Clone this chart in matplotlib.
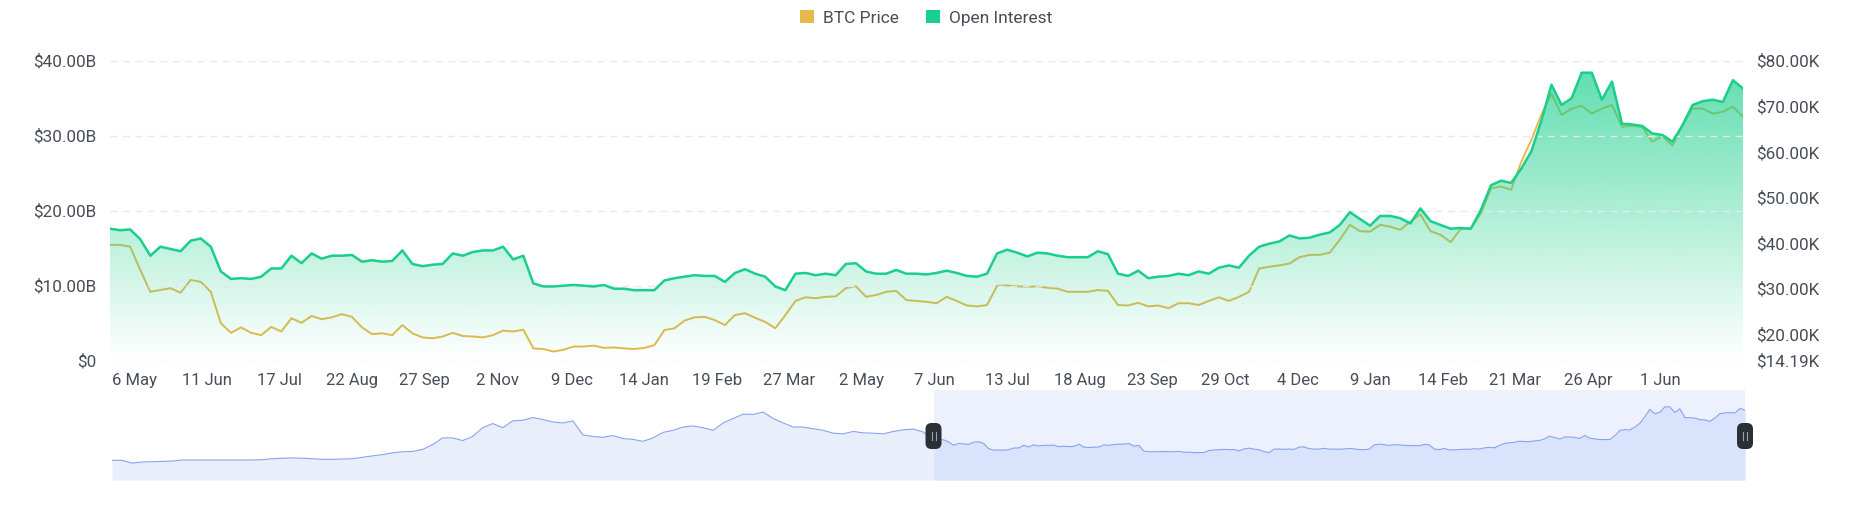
import numpy as np
import pandas as pd
import matplotlib
matplotlib.use("Agg")
import matplotlib.pyplot as plt
import matplotlib.dates as mdates
import matplotlib.transforms as mtrans
from matplotlib.patches import Patch, Polygon, FancyBboxPatch
from matplotlib.colors import to_rgb

plt.rcParams['font.family'] = ['Roboto', 'DejaVu Sans']

# open interest, $B (every 5 days from 24 Apr 2022)
oi = [17.6, 17.4, 17.5, 16.2, 14.0, 15.2, 14.9, 14.6, 16.0, 16.3,
      15.2, 11.9, 10.9, 11.0, 10.9, 11.2, 12.3, 12.3, 14.0, 13.0,
      14.3, 13.6, 14.0, 14.0, 14.1, 13.2, 13.4, 13.2, 13.3, 14.7,
      12.9, 12.6, 12.8, 12.9, 14.3, 14.0, 14.5, 14.7, 14.7, 15.2,
      13.5, 14.0, 10.3, 9.9, 9.9, 10.0, 10.1, 10.0, 9.9, 10.1,
      9.6, 9.6, 9.4, 9.4, 9.4, 10.7, 11.0, 11.2, 11.4, 11.3,
      11.3, 10.5, 11.7, 12.2, 11.6, 11.2, 9.9, 9.4, 11.6, 11.7,
      11.4, 11.6, 11.4, 12.9, 13.0, 11.9, 11.6, 11.6, 12.1, 11.6,
      11.6, 11.5, 11.7, 12.0, 11.7, 11.3, 11.2, 11.6, 14.3, 14.8,
      14.4, 13.9, 14.4, 14.3, 14.0, 13.8, 13.8, 13.8, 14.6, 14.2,
      11.6, 11.3, 12.0, 11.0, 11.2, 11.3, 11.6, 11.4, 11.9, 11.6,
      12.4, 12.7, 12.4, 14.0, 15.2, 15.6, 15.9, 16.7, 16.3, 16.4,
      16.8, 17.1, 18.1, 19.8, 18.9, 18.0, 19.3, 19.3, 19.0, 18.3,
      20.3, 18.6, 18.1, 17.6, 17.7, 17.6, 20.1, 23.4, 24.0, 23.7,
      25.6, 27.9, 32.0, 36.8, 34.1, 35.0, 38.4, 38.4, 34.8, 37.2,
      31.6, 31.5, 31.3, 30.3, 30.1, 29.2, 31.4, 34.1, 34.6, 34.8,
      34.5, 37.4, 36.3]

# BTC price, $K (same dates)
btc = [39.6, 39.6, 39.2, 34.1, 29.3, 29.7, 30.1, 29.1, 31.9, 31.5,
       29.3, 22.4, 20.3, 21.5, 20.3, 19.8, 21.6, 20.6, 23.5, 22.5,
       24.0, 23.3, 23.7, 24.4, 23.8, 21.5, 20.0, 20.2, 19.8, 22.0,
       20.2, 19.3, 19.1, 19.5, 20.3, 19.6, 19.5, 19.3, 19.8, 20.8,
       20.6, 21.0, 16.9, 16.75, 16.2, 16.6, 17.3, 17.3, 17.5, 17.0,
       17.1, 16.9, 16.75, 17.0, 17.6, 20.9, 21.3, 23.0, 23.7, 23.8,
       23.1, 22.0, 24.2, 24.6, 23.6, 22.7, 21.3, 24.2, 27.3, 28.1,
       27.9, 28.2, 28.3, 30.1, 30.5, 28.2, 28.6, 29.3, 29.5, 27.5,
       27.3, 27.1, 26.8, 28.2, 27.3, 26.3, 26.1, 26.4, 30.6, 30.7,
       30.5, 30.4, 30.5, 30.2, 30.0, 29.3, 29.3, 29.3, 29.7, 29.5,
       26.4, 26.3, 26.9, 26.1, 26.3, 25.7, 26.8, 26.8, 26.4, 27.3,
       28.1, 27.3, 28.2, 29.3, 34.4, 34.8, 35.1, 35.5, 36.9, 37.4,
       37.4, 37.9, 40.7, 44.0, 42.6, 42.5, 44.0, 43.6, 42.9, 44.7,
       46.3, 42.6, 41.8, 40.2, 43.1, 43.2, 46.5, 52.0, 52.4, 51.7,
       57.8, 62.6, 68.2, 72.8, 68.1, 69.5, 70.1, 68.4, 69.5, 70.3,
       65.5, 65.7, 65.5, 62.2, 63.5, 61.4, 65.9, 69.5, 69.5, 68.4,
       68.8, 69.9, 67.7]

# earlier open interest shown only in the zoom slider, $B (every 10 days)
oi_hist = [4.5, 4.5, 2.7, 3.4, 3.6, 3.8, 4.0, 4.7, 4.7, 4.7,
           4.7, 4.7, 4.7, 4.7, 4.7, 4.9, 5.5, 5.8, 6.0, 5.8,
           5.5, 5.1, 5.1, 5.3, 5.5, 6.4, 7.3, 8.1, 9.2, 9.9,
           10.1, 11.4, 14.4, 18.7, 18.7, 17.0, 19.6, 25.2, 27.8, 25.2,
           29.5, 29.9, 31.6, 30.4, 28.8, 28.2, 29.5, 20.6, 19.6, 19.1,
           20.2, 18.3, 17.8, 16.5, 18.7, 22.2, 23.5, 25.6, 26.3, 25.2,
           23.5, 28.2, 31.0, 33.8, 33.6, 35.1, 31.0, 28.2, 25.6, 25.6,
           24.5, 23.5, 21.7, 21.3, 22.8, 21.9, 21.7, 21.3, 22.8, 23.9,
           24.3, 22.4]

tick_dates = ['2022-05-06', '2022-06-11', '2022-07-17', '2022-08-22', '2022-09-27',
              '2022-11-02', '2022-12-09', '2023-01-14', '2023-02-19', '2023-03-27',
              '2023-05-02', '2023-06-07', '2023-07-13', '2023-08-18', '2023-09-23',
              '2023-10-29', '2023-12-04', '2024-01-09', '2024-02-14', '2024-03-21',
              '2024-04-26', '2024-06-01']
oi_ticks = [0, 10, 20, 30, 40]
btc_ticks = [14.19, 20, 30, 40, 50, 60, 70, 80]

start = pd.Timestamp('2022-04-24')
dates = pd.date_range(start, periods=len(oi), freq='5D')
hist_dates = pd.date_range(end=start - pd.Timedelta(days=10), periods=len(oi_hist), freq='10D')

YELLOW = '#e6b94c'
GREEN = '#19cf8c'
TXT = '#474d57'

W, H = 1852, 525
fig = plt.figure(figsize=(W / 100, H / 100), dpi=100)

x = mdates.date2num(dates)
xh = mdates.date2num(hist_dates)

# main chart: OI axis on top of the BTC axis
ax = fig.add_axes([110 / W, (H - 360.7) / H, 1633 / W, 300 / H])
axr = ax.twinx()
ax.set_zorder(2)
ax.patch.set_visible(False)

axr.plot(x, btc, color=YELLOW, lw=1.4)
axr.set_ylim(btc_ticks[0], btc_ticks[-1])
axr.set_yticks(btc_ticks)
axr.set_yticklabels(['$%.2fK' % v for v in btc_ticks])

# gradient fill under open interest
top = max(oi)
grad = np.zeros((256, 1, 4))
grad[:, 0, :3] = to_rgb(GREEN)
grad[:, 0, 3] = np.linspace(0.68, 0.0, 256)
im = ax.imshow(grad, extent=[x[0], x[-1], 0, top], aspect='auto', origin='upper', zorder=1)
clip = Polygon(np.vstack([[x[0], 0], np.column_stack([x, oi]), [x[-1], 0]]),
               closed=True, transform=ax.transData)
im.set_clip_path(clip)
ax.plot(x, oi, color=GREEN, lw=1.8, zorder=3)

ax.set_xlim(x[0], x[-1])
ax.set_ylim(0, 40)
ax.set_yticks(oi_ticks)
ax.set_yticklabels(['$0' if v == 0 else '$%.2fB' % v for v in oi_ticks])
tx = mdates.date2num(pd.to_datetime(tick_dates))
ax.set_xticks(tx)
ax.set_xticklabels([pd.Timestamp(d).strftime('%-d %b') for d in tick_dates])
ax.grid(axis='y', color='#e6e8eb', linestyle=(0, (5, 4)), linewidth=1)

for a in (ax, axr):
    for s in a.spines.values():
        s.set_visible(False)
    a.tick_params(length=0, labelsize=12.3, colors=TXT)
ax.tick_params(axis='y', pad=9.5)
ax.tick_params(axis='x', pad=8.5, labelsize=12)
axr.tick_params(axis='y', pad=9.5)

# zoom slider
sx = fig.add_axes([112 / W, (H - 480) / H, 1633 / W, 90 / H])
xa = np.concatenate([xh, x])
ya = np.concatenate([oi_hist, oi])
rng = ya.max() - ya.min()
lo, hi = ya.min() - 0.3 * rng, ya.max() + 0.3 * rng
sx.fill_between(xa, ya, lo, color='#e9eefb', lw=0)
sx.axvspan(x[0], x[-1], color='#edf1fd', lw=0)
sx.fill_between(x, oi, lo, color='#d9e3fb', lw=0)
sx.plot(xa, ya, color='#86a3f1', lw=0.8)
sx.set_xlim(xa[0], xa[-1])
sx.set_ylim(lo, hi)
sx.axis('off')

for xv in (x[0], x[-1]):
    hx = 112 + (xv - xa[0]) / (xa[-1] - xa[0]) * 1633
    hy = H - 436
    fig.add_artist(FancyBboxPatch((hx - 7, hy - 12), 14, 24,
                                  boxstyle='round,pad=1,rounding_size=6',
                                  fc='#2b2f36', ec='none',
                                  transform=mtrans.IdentityTransform()))
    for dx in (-2, 2):
        fig.add_artist(plt.Line2D([hx + dx, hx + dx], [hy - 4, hy + 4], color='#9aa1ab',
                                  lw=0.8, transform=mtrans.IdentityTransform()))

fig.legend(handles=[Patch(facecolor=YELLOW), Patch(facecolor=GREEN)],
           labels=['BTC Price', 'Open Interest'], loc='center',
           bbox_to_anchor=(0.5, 1 - 18 / H), ncol=2, frameon=False,
           handlelength=0.8, handleheight=0.8, handletextpad=0.5,
           columnspacing=1.6, fontsize=12.5, labelcolor=TXT)

fig.savefig('out.png', dpi=100)
